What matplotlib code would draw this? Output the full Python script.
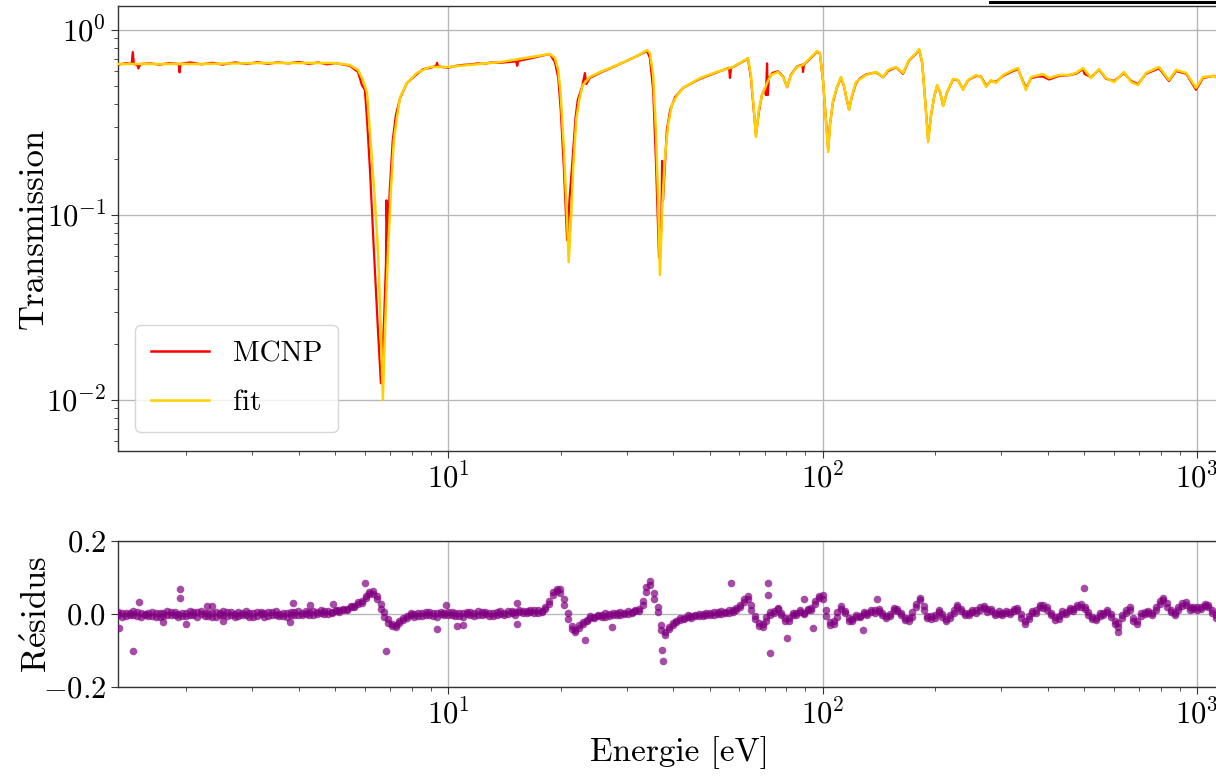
import numpy as np
import matplotlib
matplotlib.use("Agg")
import matplotlib.pyplot as plt
from matplotlib.lines import Line2D
from matplotlib.ticker import LogLocator, NullFormatter

plt.rcParams['font.family'] = ['cmr10', 'DejaVu Serif']
plt.rcParams['mathtext.fontset'] = 'cm'
plt.rcParams['axes.formatter.use_mathtext'] = True

# ---------------- data ----------------
fit_energy = [1.32, 2.18, 3.15, 4.93, 5.47, 5.75, 5.93, 6.08, 6.19, 6.38, 6.50, 6.62, 6.70, 6.79,
              6.92, 7.04, 7.17, 7.31, 7.45, 7.77, 8.26, 8.95, 10.0, 13.8, 18.7, 19.3, 19.7, 20.0,
              20.4, 20.8, 21.0, 21.3, 21.6, 22.0, 22.4, 22.9, 23.9, 25.5, 28.3, 31.6, 34.0, 34.6,
              35.3, 35.9, 36.4, 36.8, 37.3, 37.9, 38.7, 39.6, 40.8, 42.4, 47.1, 52.2, 57.7, 62.1,
              63.2, 64.4, 65.6, 66.4, 67.6, 68.9, 71.1, 72.8, 76.0, 78.5, 80.4, 82.4, 85.5, 88.7,
              92.7, 96.7, 98.4, 100.3, 102.1, 103.5, 104.7, 106.7, 109.3, 112.0, 114.0, 116.2,
              117.7, 119.9, 122.8, 130.6, 139.0, 145.1, 149.6, 157.1, 164.0, 170.2, 177.8, 181.1,
              184.5, 187.9, 191.4, 195.0, 198.6, 202.3, 206.1, 209.9, 215.0, 223.0, 230.0, 237.1,
              244.6, 257.0, 265.0, 273.4, 281.8, 290.5, 303.4, 322.6, 332.6, 338.8, 349.4, 360.5,
              388.0, 402.6, 428.0, 455.0, 475.3, 496.5, 521.2, 547.2, 571.5, 600.3, 638.3, 666.8,
              695.5, 730.5, 791.7, 841.4, 878.9, 935.0, 993.4, 1037, 1104, 1188, 1300]
fit_trans = [0.655, 0.655, 0.663, 0.663, 0.647, 0.608, 0.537, 0.457, 0.277, 0.120, 0.0647, 0.024,
             0.0100, 0.024, 0.0647, 0.136, 0.254, 0.339, 0.434, 0.517, 0.586, 0.631, 0.631, 0.671,
             0.742, 0.706, 0.608, 0.445, 0.225, 0.094, 0.0557, 0.094, 0.182, 0.326, 0.418, 0.504,
             0.557, 0.593, 0.647, 0.714, 0.779, 0.751, 0.571, 0.288, 0.120, 0.0474, 0.106, 0.198,
             0.306, 0.393, 0.440, 0.486, 0.550, 0.593, 0.631, 0.689, 0.706, 0.571, 0.370, 0.264,
             0.370, 0.445, 0.517, 0.571, 0.593, 0.557, 0.492, 0.571, 0.631, 0.647, 0.706, 0.770,
             0.751, 0.537, 0.326, 0.219, 0.306, 0.418, 0.492, 0.557, 0.504, 0.418, 0.370, 0.445,
             0.523, 0.571, 0.593, 0.557, 0.608, 0.631, 0.586, 0.689, 0.751, 0.789, 0.671, 0.418,
             0.248, 0.347, 0.434, 0.504, 0.462, 0.388, 0.462, 0.543, 0.537, 0.474, 0.537, 0.571,
             0.557, 0.492, 0.537, 0.517, 0.571, 0.608, 0.623, 0.557, 0.474, 0.557, 0.578, 0.550,
             0.571, 0.571, 0.586, 0.623, 0.550, 0.615, 0.550, 0.523, 0.593, 0.523, 0.504, 0.586,
             0.631, 0.537, 0.608, 0.586, 0.486, 0.557, 0.564, 0.523, 0.550]

mcnp_energy = [1.32, 1.38, 1.43, 1.44, 1.45, 1.48, 1.49, 1.51, 1.60, 1.70, 1.80, 1.91, 1.92, 1.93,
               2.05, 2.20, 2.35, 2.50, 2.70, 2.90, 3.10, 3.30, 3.50, 3.75, 4.00, 4.25, 4.50, 4.75,
               5.00, 5.25, 5.47, 5.75, 5.89, 6.00, 6.08, 6.19, 6.34, 6.50, 6.62, 6.75, 6.83, 6.85,
               6.90, 6.99, 7.12, 7.26, 7.45, 7.77, 8.26, 8.60, 8.95, 9.30, 9.35, 9.40, 10.0, 10.5,
               11.0, 11.5, 12.0, 12.5, 13.0, 13.8, 15.2, 15.3, 15.4, 16.5, 17.5, 18.7, 19.3, 19.7,
               20.0, 20.4, 20.8, 21.1, 21.5, 21.9, 22.2, 22.8, 23.2, 23.4, 23.9, 25.5, 28.3, 31.6,
               34.0, 34.6, 35.3, 35.9, 36.6, 37.1, 37.3, 37.5, 37.7, 38.4, 39.2, 40.4, 42.4, 47.1,
               52.2, 56.3, 56.6, 57.0, 57.7, 62.1, 63.2, 64.4, 65.6, 66.4, 67.6, 68.9, 70.2, 70.6,
               71.1, 71.4, 71.9, 73.5, 76.0, 78.5, 80.4, 82.4, 85.5, 88.3, 88.7, 89.2, 92.7, 96.7,
               98.4, 100.3, 102.1, 103.5, 104.7, 106.7, 109.3, 112.0, 114.0, 116.2, 117.7, 119.9,
               122.8, 126.0, 130.6, 139.0, 145.1, 149.6, 157.1, 164.0, 170.2, 177.8, 181.1, 184.5,
               187.9, 191.4, 195.0, 198.6, 202.3, 206.1, 209.9, 215.0, 223.0, 230.0, 237.1, 244.6,
               257.0, 265.0, 273.4, 281.8, 290.5, 303.4, 322.6, 332.6, 338.8, 349.4, 360.5, 375.0,
               388.0, 402.6, 428.0, 455.0, 475.3, 496.5, 500.0, 521.2, 547.2, 571.5, 600.3, 638.3,
               666.8, 695.5, 730.5, 791.7, 841.4, 878.9, 935.0, 993.4, 1037, 1104, 1188, 1300]
mcnp_trans = [0.650, 0.662, 0.655, 0.760, 0.655, 0.648, 0.620, 0.655, 0.660, 0.650, 0.662, 0.655,
              0.590, 0.655, 0.668, 0.652, 0.665, 0.650, 0.668, 0.655, 0.670, 0.656, 0.668, 0.660,
              0.672, 0.655, 0.668, 0.652, 0.662, 0.650, 0.640, 0.593, 0.504, 0.474, 0.326, 0.175,
              0.0647, 0.024, 0.0123, 0.027, 0.055, 0.120, 0.073, 0.136, 0.254, 0.347, 0.429, 0.517,
              0.578, 0.615, 0.623, 0.640, 0.665, 0.635, 0.625, 0.640, 0.648, 0.652, 0.660, 0.655,
              0.668, 0.665, 0.676, 0.640, 0.680, 0.700, 0.720, 0.742, 0.671, 0.550, 0.370, 0.175,
              0.073, 0.120, 0.198, 0.334, 0.418, 0.492, 0.585, 0.510, 0.550, 0.588, 0.645, 0.715,
              0.770, 0.706, 0.474, 0.198, 0.059, 0.083, 0.196, 0.120, 0.145, 0.288, 0.370, 0.434,
              0.486, 0.545, 0.590, 0.625, 0.550, 0.625, 0.630, 0.685, 0.700, 0.550, 0.360, 0.270,
              0.360, 0.445, 0.486, 0.445, 0.660, 0.445, 0.550, 0.586, 0.598, 0.560, 0.490, 0.575,
              0.635, 0.650, 0.593, 0.650, 0.700, 0.765, 0.745, 0.530, 0.330, 0.225, 0.310, 0.410,
              0.490, 0.552, 0.500, 0.415, 0.372, 0.440, 0.515, 0.548, 0.575, 0.590, 0.555, 0.600,
              0.628, 0.580, 0.685, 0.745, 0.780, 0.665, 0.420, 0.255, 0.350, 0.435, 0.500, 0.460,
              0.390, 0.460, 0.540, 0.535, 0.478, 0.535, 0.565, 0.560, 0.500, 0.530, 0.525, 0.565,
              0.600, 0.615, 0.560, 0.485, 0.550, 0.560, 0.560, 0.540, 0.565, 0.570, 0.580, 0.615,
              0.580, 0.555, 0.610, 0.545, 0.530, 0.585, 0.530, 0.510, 0.580, 0.620, 0.530, 0.600,
              0.580, 0.475, 0.550, 0.565, 0.530, 0.545]

res_energy = [1.318, 1.349, 1.380, 1.413, 1.445, 1.479, 1.514, 1.549, 1.585, 1.622, 1.660, 1.698,
              1.738, 1.778, 1.820, 1.862, 1.905, 1.950, 1.995, 2.042, 2.089, 2.138, 2.188, 2.239,
              2.291, 2.344, 2.399, 2.455, 2.512, 2.570, 2.630, 2.692, 2.754, 2.818, 2.884, 2.951,
              3.020, 3.090, 3.162, 3.236, 3.311, 3.388, 3.467, 3.548, 3.631, 3.715, 3.802, 3.890,
              3.981, 4.074, 4.169, 4.266, 4.365, 4.467, 4.571, 4.677, 4.786, 4.898, 5.012, 5.129,
              5.248, 5.370, 5.495, 5.623, 5.754, 5.888, 6.026, 6.166, 6.310, 6.457, 6.607, 6.761,
              6.918, 7.079, 7.244, 7.413, 7.586, 7.762, 7.943, 8.128, 8.318, 8.511, 8.710, 8.913,
              9.120, 9.333, 9.550, 9.772,
              10.00, 10.23, 10.47, 10.72, 10.96, 11.22, 11.48, 11.75, 12.02, 12.30,
              12.59, 12.88, 13.18, 13.49, 13.80, 14.13, 14.45, 14.79, 15.14, 15.49,
              15.85, 16.22, 16.60, 16.98, 17.38, 17.78, 18.20, 18.62, 19.05, 19.50,
              19.95, 20.42, 20.89, 21.38, 21.88, 22.39, 22.91, 23.44, 23.99, 24.55,
              25.12, 25.70, 26.30, 26.92, 27.54, 28.18, 28.84, 29.51, 30.20, 30.90,
              31.62, 32.36, 33.11, 33.88, 34.67, 35.48, 36.31, 37.15, 38.02, 38.90,
              39.81, 40.74, 41.69, 42.66, 43.65, 44.67, 45.71, 46.77, 47.86, 48.98,
              50.12, 51.29, 52.48, 53.70, 54.95, 56.23, 57.54, 58.88, 60.26, 61.66,
              63.10, 64.57, 66.07, 67.61, 69.18, 70.79, 72.44, 74.13, 75.86, 77.62,
              79.43, 81.28, 83.18, 85.11, 87.10, 89.13, 91.20, 93.33, 95.50, 97.72,
              100.0, 102.3, 104.7, 107.2, 109.6, 112.2, 114.8, 117.5, 120.2, 123.0,
              125.9, 128.8, 131.8, 134.9, 138.0, 141.3, 144.5, 147.9, 151.4, 154.9,
              158.5, 162.2, 166.0, 169.8, 173.8, 177.8, 182.0, 186.2, 190.5, 195.0,
              199.5, 204.2, 208.9, 213.8, 218.8, 223.9, 229.1, 234.4, 239.9, 245.5,
              251.2, 257.0, 263.0, 269.2, 275.4, 281.8, 288.4, 295.1, 302.0, 309.0,
              316.2, 323.6, 331.1, 338.8, 346.7, 354.8, 363.1, 371.5, 380.2, 389.0,
              398.1, 407.4, 416.9, 426.6, 436.5, 446.7, 457.1, 467.7, 478.6, 489.8,
              501.2, 512.9, 524.8, 537.0, 549.5, 562.3, 575.4, 588.8, 602.6, 616.6,
              631.0, 645.7, 660.7, 676.1, 691.8, 707.9, 724.4, 741.3, 758.6, 776.2,
              794.3, 812.8, 831.8, 851.1, 871.0, 891.3, 912.0, 933.3, 955.0, 977.2,
              1000, 1023, 1047, 1072, 1096, 1122, 1148, 1175, 1202]
res_value = [-0.004, 0.003, -0.006, 0.002, -0.003, 0.005, -0.007, 0.001,
             0.004, -0.005, 0.002, -0.008, 0.003, -0.002, 0.006, -0.004, 0.001, -0.006,
             0.003, -0.003, 0.005, -0.007, 0.000, 0.004, -0.005, 0.002, -0.009, 0.003,
             -0.002, 0.006, -0.004, 0.001, -0.006, 0.004, -0.003, 0.002, -0.007, 0.005,
             -0.001, 0.003, -0.005, 0.006, -0.002, 0.001, -0.006, 0.004, -0.003, 0.005,
             -0.002, 0.004, 0.000, 0.006, -0.003, 0.005, 0.002, 0.007, 0.001, 0.006,
             0.007, 0.010, 0.011, 0.014, 0.018, 0.022, 0.028, 0.036, 0.050, 0.060,
             0.055, 0.040, 0.015, -0.008, -0.025, -0.033, -0.030, -0.020, -0.012, -0.006,
             -0.004, 0.001, -0.006, 0.003, -0.002, 0.005, -0.005, 0.002, -0.001, 0.004,
             0.006, -0.003, 0.004, -0.005, 0.002, 0.005, -0.004, 0.003, -0.002, 0.006,
             -0.001, 0.004, -0.005, 0.006, 0.001, -0.003, 0.007, 0.002, -0.002, 0.005,
             0.008, 0.003, 0.006, 0.010, 0.004, 0.009, 0.015, 0.028, 0.052, 0.068,
             0.068, 0.040, 0.002, -0.040, -0.045, -0.030, -0.022, -0.016, -0.012, -0.008,
             -0.006, -0.002, -0.007, 0.001, -0.004, 0.003, -0.002, 0.004, 0.001, 0.006,
             0.008, 0.013, 0.025, 0.060, 0.090, 0.058, 0.020, -0.030, -0.058, -0.042,
             -0.030, -0.022, -0.016, -0.012, -0.008, -0.006, -0.002, -0.005, 0.000, -0.003,
             0.002, -0.002, 0.005, 0.001, 0.006, 0.004, 0.010, 0.016, 0.025, 0.040,
             0.050, 0.025, -0.005, -0.025, -0.035, -0.018, -0.002, 0.008, 0.013, 0.002,
             -0.012, -0.020, -0.004, 0.002, 0.006, 0.004, 0.010, 0.016, 0.028, 0.050,
             0.052, 0.010, -0.022, -0.028, -0.007, 0.022, 0.008, -0.012, -0.020, -0.008,
             -0.005, 0.000, 0.003, 0.006, 0.010, 0.008, -0.002, -0.006, -0.006, 0.010,
             0.015, 0.002, -0.010, -0.020, -0.008, 0.028, 0.045, 0.022, -0.006, -0.014,
             -0.004, 0.006, 0.000, -0.020, -0.012, 0.004, 0.026, 0.015, 0.004, -0.003,
             0.006, 0.010, 0.018, 0.016, 0.013, 0.008, 0.003, 0.001, 0.004, 0.002,
             0.006, 0.015, 0.010, 0.000, -0.028, -0.014, 0.002, 0.011, 0.018, 0.024,
             0.020, 0.004, -0.008, -0.014, 0.001, 0.006, 0.011, 0.015, 0.020, 0.027,
             0.020, 0.005, -0.014, -0.010, -0.006, 0.002, 0.006, 0.000, -0.020, -0.036,
             -0.010, 0.010, 0.012, -0.010, -0.028, -0.005, 0.006, 0.002, 0.003, 0.020,
             0.028, 0.045, 0.030, 0.005, -0.004, 0.010, 0.030, 0.026, 0.020, 0.014,
             0.011, 0.020, 0.028, 0.020, 0.012, -0.010, -0.018, -0.005, 0.004]
# second set of residual points read at the same energies (the band is two points thick)
res_value_b = [0.006, -0.008, 0.004, -0.002, 0.007, -0.006, 0.003, -0.004,
               -0.006, 0.005, -0.007, 0.004, -0.005, 0.008, -0.003, 0.006, -0.008, 0.004,
               -0.005, 0.007, -0.004, 0.005, 0.008, -0.006, 0.004, -0.007, 0.006, -0.004,
               0.007, -0.005, 0.006, -0.008, 0.005, -0.004, 0.007, -0.009, 0.004, -0.006,
               0.006, -0.007, 0.005, -0.004, 0.008, -0.006, 0.004, -0.008, 0.006, -0.003,
               0.007, -0.004, 0.009, -0.002, 0.008, -0.001, 0.010, 0.000, 0.009, 0.002,
               0.012, 0.006, 0.015, 0.010, 0.022, 0.018, 0.034, 0.030, 0.044, 0.055,
               0.062, 0.048, 0.028, 0.005, -0.015, -0.028, -0.035, -0.026, -0.016, -0.010,
               0.002, -0.007, 0.004, -0.005, 0.006, -0.004, 0.003, -0.007, 0.005, -0.003,
               -0.004, 0.006, -0.006, 0.004, -0.007, 0.000, 0.006, -0.005, 0.007, -0.002,
               0.006, -0.005, 0.004, -0.002, 0.008, 0.004, -0.001, 0.008, 0.005, 0.010,
               0.002, 0.009, 0.012, 0.004, 0.011, 0.006, 0.020, 0.035, 0.060, 0.062,
               0.058, 0.025, -0.015, -0.032, -0.050, -0.038, -0.028, -0.020, -0.006, -0.012,
               -0.002, -0.008, 0.002, -0.005, 0.004, -0.003, 0.005, -0.001, 0.007, 0.002,
               0.012, 0.007, 0.035, 0.075, 0.080, 0.042, 0.005, -0.045, -0.050, -0.036,
               -0.025, -0.018, -0.010, -0.015, -0.004, -0.010, -0.006, 0.001, -0.006, 0.004,
               -0.004, 0.005, -0.001, 0.008, 0.002, 0.010, 0.006, 0.012, 0.020, 0.032,
               0.040, 0.012, -0.015, -0.032, -0.028, -0.008, 0.006, 0.002, 0.016, -0.004,
               -0.018, -0.012, 0.002, -0.004, 0.010, 0.000, 0.014, 0.010, 0.035, 0.045,
               0.040, -0.005, -0.030, -0.018, 0.006, 0.015, 0.002, -0.018, -0.014, -0.002,
               -0.009, 0.005, -0.003, 0.010, 0.004, 0.014, 0.002, -0.010, 0.000, 0.016,
               0.008, -0.004, -0.016, -0.012, 0.005, 0.020, 0.038, 0.012, -0.012, -0.006,
               -0.012, 0.010, -0.008, -0.014, -0.004, 0.012, 0.020, 0.008, -0.004, 0.004,
               0.010, 0.004, 0.012, 0.022, 0.006, 0.014, -0.003, 0.007, -0.002, 0.008,
               0.000, 0.008, 0.016, -0.010, -0.020, -0.006, 0.008, 0.004, 0.024, 0.016,
               0.012, -0.004, -0.016, -0.006, 0.008, 0.000, 0.016, 0.008, 0.026, 0.018,
               0.014, -0.004, -0.008, -0.016, 0.002, -0.004, 0.012, -0.008, -0.028, -0.026,
               -0.002, 0.004, 0.018, -0.018, -0.020, 0.002, 0.000, 0.008, -0.004, 0.012,
               0.036, 0.038, 0.020, 0.012, 0.004, 0.018, 0.022, 0.032, 0.012, 0.020,
               0.018, 0.014, 0.022, 0.026, 0.004, -0.002, -0.010, 0.002, -0.004]

outlier_energy = [1.32, 1.44, 1.50, 1.73, 1.92, 1.93, 2.00, 2.27, 2.34, 2.51, 3.78, 3.85, 4.28,
                  4.93, 6.00, 6.83, 9.35, 9.88, 10.6, 11.0, 15.3, 15.3, 23.2, 27.4, 37.2, 37.5,
                  57.0, 71.4, 71.4, 72.4, 80.4, 89.3, 94.4, 128.3, 139.9, 499.0, 615.0]
outlier_value = [-0.037, -0.102, 0.032, -0.021, 0.068, 0.044, -0.027, 0.022, 0.022, -0.018,
                 -0.023, 0.029, 0.025, 0.027, 0.086, -0.100, -0.042, 0.025, -0.033, -0.030,
                 0.029, -0.027, -0.071, -0.035, -0.099, -0.129, 0.084, 0.084, 0.052, -0.107,
                 -0.065, 0.041, -0.037, -0.044, 0.041, 0.070, -0.048]

# ---------------- figure ----------------
W, H = 1216, 776
fig = plt.figure(figsize=(W / 100, H / 100), dpi=100)

left = 118 / W
width = (1240 - 118) / W
ax1 = fig.add_axes([left, (H - 451) / H, width, (451 - 6) / H])
ax2 = fig.add_axes([left, (H - 687) / H, width, (687 - 541) / H])

grid_kw = dict(color='#b8b8b8', linewidth=1.0)
spine_color = '#333333'

ax1.plot(mcnp_energy, mcnp_trans, color='#ff0000', lw=1.6, label='MCNP', zorder=3)
ax1.plot(fit_energy, fit_trans, color='#ffd000', lw=1.8, label='fit', zorder=4)
ax1.set_xscale('log')
ax1.set_yscale('log')
ax1.set_xlim(1.315, 1302)
ax1.set_ylim(0.0053, 1.348)
ax1.grid(True, which='major', **grid_kw)
ax1.set_ylabel('Transmission', fontsize=25)
ax1.yaxis.set_label_coords(-0.061, 0.5)
ax1.tick_params(axis='both', which='major', labelsize=22, direction='out', length=5,
                color=spine_color)
ax1.tick_params(axis='both', which='minor', direction='out', length=3, color=spine_color)
ax1.yaxis.set_minor_locator(LogLocator(base=10, subs=np.arange(2, 10) * 0.1, numticks=20))
ax1.yaxis.set_minor_formatter(NullFormatter())
leg = ax1.legend(loc='lower left', bbox_to_anchor=(0.015, 0.043), borderaxespad=0,
                 fontsize=21, frameon=True, fancybox=True, handlelength=2.0,
                 borderpad=0.55, labelspacing=0.75)
leg.get_frame().set_edgecolor('#cccccc')
leg.get_frame().set_linewidth(1.0)
for line in leg.get_lines():
    line.set_linewidth(1.8)

scat_kw = dict(s=30, color='#800080', alpha=0.7, linewidths=0, zorder=3)
ax2.scatter(res_energy, res_value, **scat_kw)
ax2.scatter(res_energy, res_value_b, **scat_kw)
ax2.scatter(outlier_energy, outlier_value, **scat_kw)
ax2.set_xscale('log')
ax2.set_xlim(1.315, 1302)
ax2.set_ylim(-0.2, 0.2)
ax2.set_yticks([-0.2, 0.0, 0.2])
ax2.grid(True, which='major', **grid_kw)
ax2.set_ylabel(r'$\mathrm{R\acute{e}sidus}$', fontsize=25)
ax2.yaxis.set_label_coords(-0.057, 0.5)
ax2.set_xlabel('Energie [eV]', fontsize=24, labelpad=4)
ax2.tick_params(axis='both', which='major', labelsize=22, direction='out', length=5,
                color=spine_color)
ax2.tick_params(axis='both', which='minor', direction='out', length=3, color=spine_color)

for ax in (ax1, ax2):
    for sp in ax.spines.values():
        sp.set_color(spine_color)
        sp.set_linewidth(1.0)
    ax.set_axisbelow(True)

fig.add_artist(Line2D([990 / W, 1.0], [1 - 1.5 / H, 1 - 1.5 / H], color='black', lw=2.2,
                      transform=fig.transFigure))

fig.savefig('out.png', dpi=100)
